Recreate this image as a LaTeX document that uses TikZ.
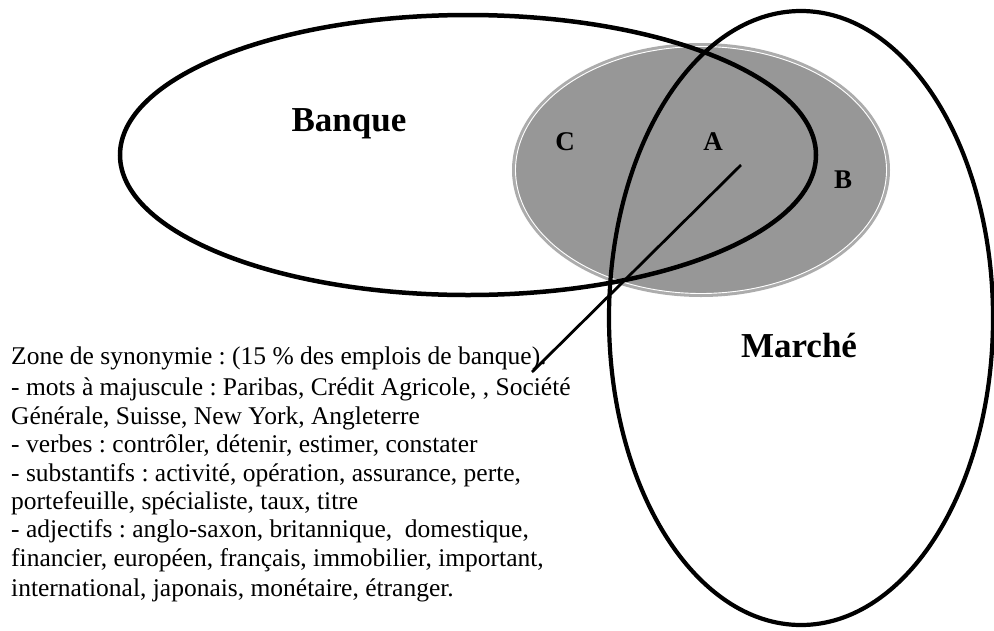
\documentclass[tikz,border=0pt]{standalone}
\usepackage{fontspec}
\setmainfont{Liberation Serif}
\frenchspacing
\definecolor{fillgray}{RGB}{151,151,151}
\definecolor{ringgray}{RGB}{172,172,172}
\tikzset{
  setline/.style={line width=4.5pt, black},
  label/.style={font=\fontsize{35}{40}\selectfont\bfseries, anchor=base, inner sep=0pt},
  zone/.style={font=\fontsize{27}{30}\selectfont\bfseries, anchor=base, inner sep=0pt},
  txt/.style={font=\fontsize{25.5}{29}\selectfont, anchor=base west, inner sep=0pt},
  link/.style={line width=2.8pt, black}
}
\begin{document}
\begin{tikzpicture}[x=1pt,y=-1pt]
\useasboundingbox (0,0) rectangle (994,630);
% shaded zone
\fill[ringgray] (701,170) ellipse [x radius=189, y radius=127];
\fill[fillgray] (701,170) ellipse [x radius=185, y radius=123];
\draw[white, line width=0.9pt] (701,170) ellipse [x radius=185.5, y radius=123.5];
% sets
\draw[setline] (468,155) ellipse [x radius=348, y radius=140];
\draw[setline, line width=4.2pt] (801,318) ellipse [x radius=192, y radius=307];
% labels
\node[label] (banque) at (349,131.7) {Banque};
\node[label] (marche) at (799,357.3) {Marché};
\node[zone] (c) at (565,150) {C};
\node[zone] (a) at (713,150) {A};
\node[zone] (b) at (843,188) {B};
% connector
\coordinate (p1) at (741,165);
\coordinate (p2) at (532,372);
\draw[link] (p1) -- (p2);
% text
\node[txt] (t1) at (11,364) {Zone de synonymie : (15 \% des emplois de banque).};
\node[txt] (t2) at (11,395) {- mots à majuscule : Paribas, Crédit Agricole, , Société};
\node[txt] (t3) at (11,424) {Générale, Suisse, New York, Angleterre};
\node[txt] (t4) at (11,452) {- verbes : contrôler, détenir, estimer, constater};
\node[txt] (t5) at (11,481) {- substantifs : activité, opération, assurance, perte,};
\node[txt] (t6) at (11,509) {portefeuille, spécialiste, taux, titre};
\node[txt] (t7) at (11,537) {- adjectifs : anglo-saxon, britannique,\ \ domestique,};
\node[txt] (t8) at (11,566) {financier, européen, français, immobilier, important,};
\node[txt] (t9) at (11,596) {international, japonais, monétaire, étranger.};
\end{tikzpicture}
\end{document}
